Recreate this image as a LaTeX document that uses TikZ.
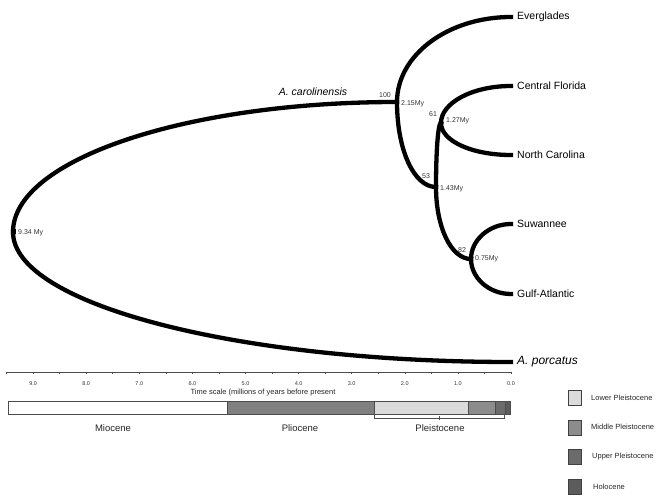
\documentclass[tikz,border=0pt]{standalone}
\usepackage{fontspec}
\setmainfont{Liberation Sans}
\begin{document}
\begin{tikzpicture}[x=1pt,y=-1pt,
  branch/.style={line width=4.3pt,line cap=rect,black},
  taxon/.style={anchor=west,font=\fontsize{10.5}{12}\selectfont,inner sep=0pt},
  small/.style={font=\fontsize{7}{8}\selectfont,inner sep=0pt,text=black!80},
  ticklab/.style={font=\fontsize{5.5}{6}\selectfont,inner sep=0pt,text=black!80},
  epoch/.style={font=\fontsize{9.5}{11}\selectfont,inner sep=0pt,text=black!85},
  leglab/.style={anchor=west,font=\fontsize{7.5}{9}\selectfont,inner sep=0pt,text=black!85},
  legbox/.style={draw=black!75,line width=0.8pt,minimum width=13pt,minimum height=15pt,inner sep=0pt},
  seg/.style={draw=black!70,line width=0.6pt}]
\useasboundingbox (0,0) rectangle (664,502);
\definecolor{cLow}{gray}{0.86}
\definecolor{cMid}{gray}{0.55}
\definecolor{cUp}{gray}{0.42}
\definecolor{cHol}{gray}{0.36}
\definecolor{cPlio}{gray}{0.5}

% internal nodes
\coordinate (R) at (13,232);
\coordinate (C) at (397,102);
\coordinate (D) at (436,187);
\coordinate (E) at (441,123);
\coordinate (F) at (471,259);
% tips
\coordinate (tEv) at (511,17);
\coordinate (tCF) at (511,86);
\coordinate (tNC) at (511,155);
\coordinate (tSu) at (511,224);
\coordinate (tGA) at (511,294);
\coordinate (tPo) at (511,362);

% branches
\draw[branch] (R) .. controls (13,160) and (185,102) .. (C);
\draw[branch] (R) .. controls (13,304) and (236,362) .. (tPo);
\draw[branch] (C) .. controls (397,55) and (448,17) .. (tEv);
\draw[branch] (C) .. controls (397,150) and (414,187) .. (D);
\draw[branch] (D) .. controls (436,152) and (438,123) .. (E);
\draw[branch] (E) .. controls (441,103) and (472,86) .. (tCF);
\draw[branch] (E) .. controls (441,141) and (472,155) .. (tNC);
\draw[branch] (D) .. controls (436,227) and (451,259) .. (F);
\draw[branch] (F) .. controls (471,240) and (489,224) .. (tSu);
\draw[branch] (F) .. controls (471,278) and (489,294) .. (tGA);
\fill (R) ++(-2.5,-2.5) rectangle ++(5,5);

% taxon labels
\node[taxon] (lEv) at (517,17) {Everglades};
\node[taxon] (lCF) at (517,86) {Central Florida};
\node[taxon] (lNC) at (517,155) {North Carolina};
\node[taxon] (lSu) at (517,224) {Suwannee};
\node[taxon] (lGA) at (517,294) {Gulf-Atlantic};
\node[taxon,font=\fontsize{12}{14}\selectfont\itshape] (lPo) at (517,362) {A. porcatus};
\node[font=\fontsize{10.5}{12}\selectfont\itshape,inner sep=0pt] (lCa) at (313,92) {A. carolinensis};

% support and ages
\node[small] (b100) at (385,95) {100};
\node[small,anchor=west] (a215) at (401,104) {2.15My};
\node[small] (b61) at (433,114) {61};
\node[small,anchor=west] (a127) at (446,121) {1.27My};
\node[small] (b53) at (426,176) {53};
\node[small,anchor=west] (a143) at (440,189) {1.43My};
\node[small] (b82) at (462,250) {82};
\node[small,anchor=west] (a075) at (475,259) {0.75My};
\node[small,anchor=west] (a934) at (18,233) {9.34 My};

% time axis
\draw[black!70,line width=0.6pt] (7,372) -- (511,372);
\foreach \t in {0,0.5,...,9.5} {
  \draw[black!70,line width=0.6pt] ({511-53.1*\t},372) -- ++(0,2.5);
}
\foreach \t in {0,...,9} {
  \node[ticklab] at ({511-53.1*\t},384) {\t.0};
}
\node[font=\fontsize{7.5}{9}\selectfont,inner sep=0pt,text=black!85] (tl) at (263,393) {Time scale (millions of years before present};

% epoch bar
\filldraw[seg,fill=white] (8,401) rectangle (227,414);
\filldraw[seg,fill=cPlio] (227,401) rectangle (374,414);
\filldraw[seg,fill=cLow] (374,401) rectangle (468,414);
\filldraw[seg,fill=cMid] (468,401) rectangle (495,414);
\filldraw[seg,fill=cUp] (495,401) rectangle (505,414);
\filldraw[seg,fill=cHol] (505,401) rectangle (510,414);
\draw[seg] (374,414) -- (374,418) -- (504,418) -- (504,414);
\draw[seg] (439,416) -- (439,420);
\node[epoch] (eMio) at (113,428) {Miocene};
\node[epoch] (ePli) at (300,428) {Pliocene};
\node[epoch] (ePle) at (440,428) {Pleistocene};

% legend
\node[legbox,fill=cLow] (k1) at (575,398) {};
\node[legbox,fill=cMid] (k2) at (575,428) {};
\node[legbox,fill=cUp] (k3) at (575,457) {};
\node[legbox,fill=cHol] (k4) at (575,487) {};
\node[leglab] (t1) at (591,398) {Lower Pleistocene};
\node[leglab] (t2) at (591,427) {Middle Pleistocene};
\node[leglab] (t3) at (592,457) {Upper Pleistocene};
\node[leglab] (t4) at (593,487) {Holocene};
\end{tikzpicture}
\end{document}
